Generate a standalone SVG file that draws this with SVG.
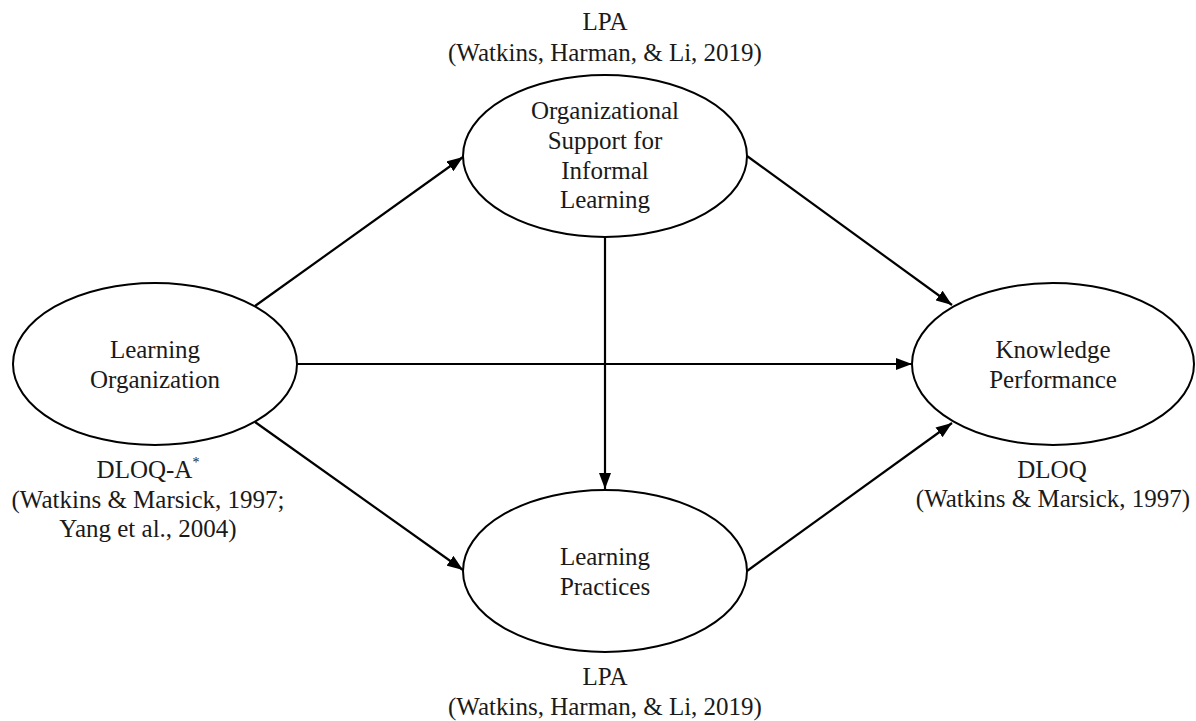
<svg xmlns="http://www.w3.org/2000/svg" width="1196" height="721" viewBox="0 0 1196 721">
  <style>
    .node ellipse { fill: #ffffff; stroke: #000000; stroke-width: 2; }
    text { font-family: "Liberation Serif", "Times New Roman", serif; font-size: 25px; fill: #1a1a1a; text-anchor: middle; }
    .edge { stroke: #000000; stroke-width: 2.2; fill: none; marker-end: url(#arrow); }
  </style>
  <defs>
    <marker id="arrow" viewBox="0 0 16 12" refX="16" refY="6" markerWidth="16" markerHeight="12" markerUnits="userSpaceOnUse" orient="auto">
      <path d="M0,0 L16,6 L0,12 Z" fill="#000000"/>
    </marker>
  </defs>
  <rect width="1196" height="721" fill="#ffffff"/>

  <!-- connectors -->
  <g id="connectors">
    <line class="edge" x1="255" y1="306" x2="463" y2="157"/>
    <line class="edge" x1="297" y1="364" x2="912" y2="364"/>
    <line class="edge" x1="255" y1="422" x2="463" y2="570"/>
    <line class="edge" x1="605" y1="238" x2="605" y2="489"/>
    <line class="edge" x1="747" y1="156" x2="952" y2="305"/>
    <line class="edge" x1="747" y1="571" x2="952" y2="423"/>
  </g>

  <!-- Learning Organization -->
  <g id="learning-organization" class="node">
    <ellipse cx="155" cy="364" rx="142" ry="81"/>
    <text x="155" y="358">Learning</text>
    <text x="155" y="388">Organization</text>
    <text x="148" y="478">DLOQ-A<tspan font-size="14" dy="-11">*</tspan></text>
    <text x="148" y="508">(Watkins &amp; Marsick, 1997;</text>
    <text x="148" y="537">Yang et al., 2004)</text>
  </g>

  <!-- Organizational Support for Informal Learning -->
  <g id="org-support" class="node">
    <text x="605" y="30">LPA</text>
    <text x="605" y="61">(Watkins, Harman, &amp; Li, 2019)</text>
    <ellipse cx="605" cy="156" rx="142" ry="81"/>
    <text x="605" y="119">Organizational</text>
    <text x="605" y="149">Support for</text>
    <text x="605" y="179">Informal</text>
    <text x="605" y="208">Learning</text>
  </g>

  <!-- Learning Practices -->
  <g id="learning-practices" class="node">
    <ellipse cx="605" cy="571" rx="142" ry="81"/>
    <text x="605" y="565">Learning</text>
    <text x="605" y="595">Practices</text>
    <text x="605" y="685">LPA</text>
    <text x="605" y="715">(Watkins, Harman, &amp; Li, 2019)</text>
  </g>

  <!-- Knowledge Performance -->
  <g id="knowledge-performance" class="node">
    <ellipse cx="1053" cy="364" rx="141" ry="81"/>
    <text x="1053" y="358">Knowledge</text>
    <text x="1053" y="388">Performance</text>
    <text x="1052" y="478">DLOQ</text>
    <text x="1053" y="507">(Watkins &amp; Marsick, 1997)</text>
  </g>
</svg>
